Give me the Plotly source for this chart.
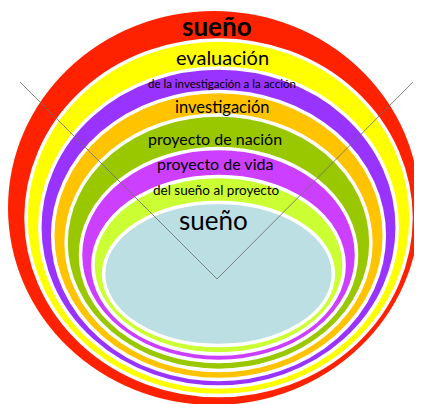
import plotly.graph_objects as go

# Ring labels (outer to inner) and colours
ring_labels = ["sueño", "evaluación", "de la investigación a la acción", "investigación",
               "proyecto de nación", "proyecto de vida", "del sueño al proyecto", "sueño"]
ring_colors = ["#FF2200", "#FFFF00", "#9933FF", "#FFC300", "#99C800", "#CC3FFF", "#CCFF33", "#BBDFE3"]

# Ring extents (image pixel coordinates)
ring_left = [8, 26, 39.8, 52.7, 66.1, 80.5, 92.9, 103.6]
ring_right = [420, 411, 397.2, 384.3, 370.9, 356.5, 344.1, 333.4]
ring_top = [11, 40, 68, 91.5, 115, 148.5, 176.5, 202.5]
ring_bottom = [405, 395.5, 387, 379.5, 370.5, 361.5, 354, 345.5]

# Label positions
label_x = [216.5, 222, 221.5, 222, 215, 214.5, 216.5, 213.5]
label_y = [26, 57, 83, 107, 138, 163, 190, 220]
label_size = [26, 20, 11.5, 16.5, 16, 16, 13.5, 26]
label_bold = [True, False, False, False, False, False, False, False]

# V lines
v_x = [20, 217, 413]
v_y = [82, 279, 82]

fig = go.Figure()

shapes = []
for i in range(len(ring_labels)):
    shapes.append(dict(
        type="circle", xref="x", yref="y",
        x0=ring_left[i], x1=ring_right[i], y0=ring_top[i], y1=ring_bottom[i],
        fillcolor=ring_colors[i],
        line=dict(color="white", width=0 if i == 0 else 3.5),
        layer="below",
    ))

fig.add_trace(go.Scatter(
    x=v_x, y=v_y, mode="lines",
    line=dict(color="rgba(110,110,110,0.85)", width=1),
    hoverinfo="skip", showlegend=False,
))

font_family = "Comic Sans MS, Lato, sans-serif"
annotations = []
for i, lab in enumerate(ring_labels):
    txt = f"<b>{lab}</b>" if label_bold[i] else lab
    annotations.append(dict(
        x=label_x[i], y=label_y[i], xref="x", yref="y",
        text=txt, showarrow=False,
        font=dict(family=font_family, size=label_size[i], color="black"),
        xanchor="center", yanchor="middle",
    ))

fig.update_layout(
    width=414, height=396,
    margin=dict(l=0, r=0, t=0, b=0),
    paper_bgcolor="white", plot_bgcolor="white",
    shapes=shapes, annotations=annotations,
    xaxis=dict(range=[8, 422], visible=False, fixedrange=True),
    yaxis=dict(range=[404, 8], visible=False, fixedrange=True),
    showlegend=False,
)

fig.write_html("out.html")
